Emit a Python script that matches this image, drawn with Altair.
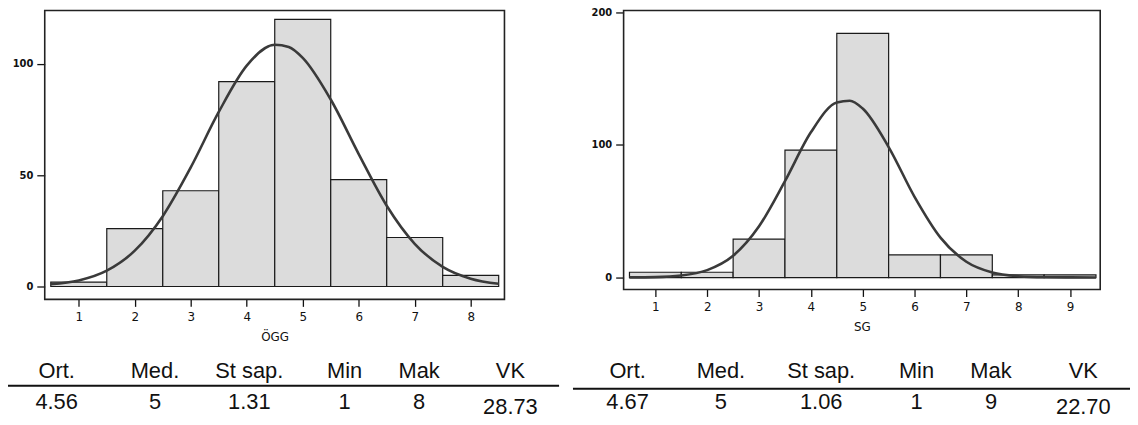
import altair as alt
import pandas as pd

# ---------------- data ----------------
OGG_BINS = [1, 2, 3, 4, 5, 6, 7, 8]
OGG_COUNTS = [2, 26, 43, 92, 120, 48, 22, 5]
OGG_CURVE_X = [0.5, 1.0, 1.5, 2.0, 2.5, 3.0, 3.5, 4.0, 4.5, 4.75, 5.0, 5.5, 6.0, 6.5, 7.0, 7.5, 8.0, 8.5]
OGG_CURVE_Y = [1.0, 2.7, 7.1, 16.1, 31.6, 53.5, 78.4, 99.2, 108.6, 107.6, 102.7, 84.0, 59.5, 36.3, 19.2, 8.8, 3.5, 1.2]

SG_BINS = [1, 2, 3, 4, 5, 6, 7, 8, 9]
SG_COUNTS = [4, 4, 29, 96, 184, 17, 17, 2, 2]
SG_CURVE_X = [0.5, 1.0, 1.5, 2.0, 2.5, 3.0, 3.5, 4.0, 4.5, 4.75, 5.0, 5.5, 6.0, 6.5, 7.0, 7.5, 8.0, 8.5, 9.0, 9.5]
SG_CURVE_Y = [0.1, 0.3, 1.5, 5.6, 16.4, 38.6, 72.6, 109.4, 131.9, 133.2, 127.3, 98.3, 60.8, 30.1, 11.9, 3.8, 1.0, 0.2, 0.1, 0.0]

STAT_HEADERS = ["Ort.", "Med.", "St sap.", "Min", "Mak", "VK"]
OGG_STATS = ["4.56", "5", "1.31", "1", "8", "28.73"]
SG_STATS = ["4.67", "5", "1.06", "1", "9", "22.70"]

OGG_XTICKS = [1, 2, 3, 4, 5, 6, 7, 8]
OGG_YTICKS = [0, 50, 100]
SG_XTICKS = [1, 2, 3, 4, 5, 6, 7, 8, 9]
SG_YTICKS = [0, 100, 200]

# ---------------- layout ----------------
W, H = 1130, 417
TICK_FONT = "DejaVu Sans"
TABLE_FONT = "Liberation Sans"


def histogram(bins, counts, cx, cy, title, xdom, xrange, ydom, yrange,
              xticks, yticks, axis_y, axis_x):
    bars_df = pd.DataFrame({
        "lo": [b - 0.5 for b in bins],
        "hi": [b + 0.5 for b in bins],
        "count": counts,
    })
    curve_df = pd.DataFrame({"x": cx, "y": cy})
    frame_df = pd.DataFrame({"k": [0]})

    xs = alt.Scale(domain=xdom, range=xrange, nice=False, zero=False)
    ys = alt.Scale(domain=ydom, range=yrange, nice=False, zero=False)

    xaxis = alt.Axis(
        orient="bottom", offset=axis_y - H, values=xticks, format="d",
        title=title, domain=False, grid=False, labelFlush=False,
        tickSize=7, tickWidth=1.3, tickColor="#111",
        labelPadding=5, labelFont=TICK_FONT, labelFontSize=12, labelColor="#111",
        titleFont=TICK_FONT, titleFontSize=12, titleFontWeight="normal",
        titleColor="#111", titleY=37, titleBaseline="middle",
    )
    yaxis = alt.Axis(
        orient="left", offset=-axis_x, values=yticks, format="d",
        title=None, domain=False, grid=False, labelFlush=False,
        tickSize=8, tickWidth=1.3, tickColor="#111",
        labelPadding=4, labelFont=TICK_FONT, labelFontSize=10, labelColor="#111",
        labelFontWeight="bold",
    )

    bars = alt.Chart(bars_df).mark_rect(
        fill="#dcdcdc", stroke="#1a1a1a", strokeWidth=1.2
    ).encode(
        x=alt.X("lo:Q", scale=xs, axis=xaxis),
        x2="hi:Q",
        y=alt.Y("count:Q", scale=ys, axis=yaxis),
        y2=alt.datum(0),
    )
    curve = alt.Chart(curve_df).mark_line(
        color="#3a3a3a", strokeWidth=2.6, interpolate="monotone"
    ).encode(
        x=alt.X("x:Q", scale=xs),
        y=alt.Y("y:Q", scale=ys),
    )
    frame = alt.Chart(frame_df).mark_rect(
        fill="white", fillOpacity=0, stroke="#222", strokeWidth=1.6
    ).encode(
        x=alt.datum(xdom[0]), x2=alt.datum(xdom[1]),
        y=alt.datum(ydom[0]), y2=alt.datum(ydom[1]),
    )
    return alt.layer(bars, curve, frame)


def stats_table(values, col_centers, line_x0, line_x1, line_y):
    n = len(STAT_HEADERS)
    df = pd.DataFrame({
        "stat": STAT_HEADERS + STAT_HEADERS,
        "col": list(range(n)) + list(range(n)),
        "row": ["head"] * n + ["val"] * n,
        "text": STAT_HEADERS + values,
    })
    xs = alt.Scale(domain=list(range(n)), range=col_centers, nice=False, zero=False)
    ys = alt.Scale(domain=["head", "val"], range=[371, 402], padding=0)
    base = alt.Chart(df).encode(
        x=alt.X("col:Q", scale=xs, axis=None),
        y=alt.Y("row:N", scale=ys, axis=None),
        text="text:N",
    )
    txt_kw = dict(font=TABLE_FONT, fontSize=22, color="#111", align="center",
                  baseline="alphabetic")
    main = base.transform_filter(
        (alt.datum.row == "head") | (alt.datum.stat != "VK")
    ).mark_text(**txt_kw)
    vk = base.transform_filter(
        (alt.datum.row == "val") & (alt.datum.stat == "VK")
    ).mark_text(dy=5, **txt_kw)
    rule = alt.Chart(pd.DataFrame({"k": [0]})).mark_rule(
        color="#111", strokeWidth=2
    ).encode(x=alt.value(line_x0), x2=alt.value(line_x1), y=alt.value(line_y))
    return alt.layer(main, vk, rule)


left_hist = histogram(
    OGG_BINS, OGG_COUNTS, OGG_CURVE_X, OGG_CURVE_Y, "ÖGG",
    xdom=[0.392, 8.603], xrange=[37, 500],
    ydom=[-5.8, 124.0], yrange=[292, 1],
    xticks=OGG_XTICKS, yticks=OGG_YTICKS, axis_y=292, axis_x=37,
)
right_hist = histogram(
    SG_BINS, SG_COUNTS, SG_CURVE_X, SG_CURVE_Y, "SG",
    xdom=[0.387, 9.582], xrange=[620, 1100],
    ydom=[-9.0, 201.2], yrange=[282, 1],
    xticks=SG_XTICKS, yticks=SG_YTICKS, axis_y=282, axis_x=620,
)
left_table = stats_table(OGG_STATS, [49, 148, 243, 339, 414, 506], 0, 555, 379)
right_table = stats_table(SG_STATS, [624, 718, 819, 915, 990, 1083], 569, 1130, 382)

chart = alt.layer(left_hist, right_hist, left_table, right_table).resolve_scale(
    x="independent", y="independent"
).resolve_axis(
    x="independent", y="independent"
).properties(
    width=W, height=H, padding=0,
    autosize=alt.AutoSizeParams(type="none"),
    background="white",
).configure_view(strokeOpacity=0)

chart.save("out.html", embed_options={"renderer": "svg", "actions": False})
